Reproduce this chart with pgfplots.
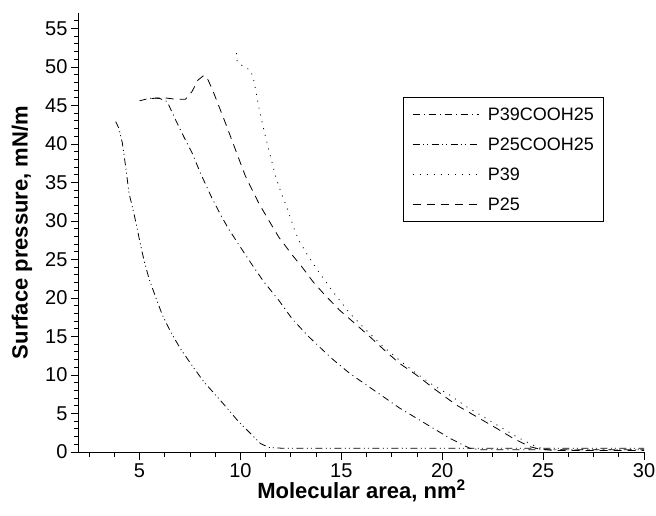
\documentclass[border=0pt]{standalone}
\usepackage{fontspec}
\setmainfont{Liberation Sans}
\usepackage{pgfplots}
\pgfplotsset{compat=1.18}
\begin{document}
\begin{tikzpicture}
\begin{axis}[
  scale only axis,
  width=565pt, height=439pt,
  xmin=2, xmax=30, ymin=0, ymax=57,
  axis x line*=bottom, axis y line*=left,
  axis line style={line width=1pt},
  tick align=outside,
  xtick={5,10,15,20,25,30},
  ytick={0,5,...,55},
  minor xtick={2.5,3.75,6.25,7.5,8.75,11.25,12.5,13.75,16.25,17.5,18.75,21.25,22.5,23.75,26.25,27.5,28.75},
  minor ytick={1,2,3,4,6,7,8,9,11,12,13,14,16,17,18,19,21,22,23,24,26,27,28,29,31,32,33,34,36,37,38,39,41,42,43,44,46,47,48,49,51,52,53,54,56},
  major tick length=8pt, minor tick length=5pt,
  every tick/.style={black, line width=0.8pt},
  /pgf/number format/assume math mode=true,
  tick label style={font=\fontsize{20}{23}\selectfont},
  xlabel={\textbf{Molecular area, nm\textsuperscript{2}}},
  ylabel={\textbf{Surface pressure, mN/m}},
  label style={font=\fontsize{22}{25}\selectfont},
  xlabel style={at={(axis description cs:0.5,0)}, anchor=center, yshift=-39pt},
  ylabel style={at={(axis description cs:0,0.5)}, anchor=center, rotate=0, yshift=57pt},
  legend style={at={(rel axis cs:0.573,0.809)}, anchor=north west, draw=black, line width=0.8pt,
    font=\fontsize{18}{21}\selectfont, inner xsep=9pt, inner ysep=9pt, row sep=14pt, column sep=9pt,
    nodes={inner sep=0pt, text height=14pt, text depth=2pt},
    cells={anchor=west}},
  legend image code/.code={\draw[#1, line width=0.8pt] (0pt,0pt) -- (66pt,0pt);},
  every axis plot/.append style={black, line width=0.8pt},
]
% P39COOH25
\addplot[dash pattern=on 7pt off 4pt on 1pt off 4pt] coordinates {
(5.0,45.6)(5.3,45.8)(5.7,46.0)(6.0,45.9)(6.37,45.5)(6.79,43.1)(7.2,40.9)(7.61,38.8)(8.02,36.2)(8.6,32.9)(9.1,30.4)(9.43,28.9)(10.0,26.6)(10.58,24.3)(11.16,22.1)(11.9,19.7)(12.56,17.3)(13.3,15.2)(13.77,14.0)(14.59,12.0)(15.42,10.2)(16.24,8.7)(17.07,7.2)(17.89,5.7)(18.72,4.4)(19.54,3.1)(20.37,1.8)(21.03,0.9)(21.36,0.5)(21.85,0.3)(30,0.3)};
\addlegendentry{P39COOH25}
% P25COOH25
\addplot[dash pattern=on 7pt off 3.5pt on 1pt off 3pt on 1pt off 3.5pt] coordinates {
(3.82,42.9)(3.98,42.0)(4.15,40.1)(4.31,37.1)(4.48,33.6)(4.72,31.0)(4.9,28.8)(5.0,27.5)(5.22,24.9)(5.47,22.5)(5.8,20.1)(6.13,17.8)(6.54,15.6)(7.03,13.4)(7.53,11.5)(8.19,9.1)(8.77,7.4)(9.34,5.7)(9.92,3.9)(10.5,2.4)(10.99,1.1)(11.4,0.6)(12,0.5)(30,0.5)};
\addlegendentry{P25COOH25}
% P39
\addplot[dash pattern=on 1pt off 6pt] coordinates {
(9.8,51.8)(9.84,50.7)(10.17,50.0)(10.5,49.6)(10.66,48.3)(10.91,44.8)(11.16,41.8)(11.49,38.4)(11.74,35.8)(12.0,33.8)(12.28,31.9)(12.69,28.8)(12.89,27.5)(13.39,25.3)(13.93,23.2)(14.59,20.8)(15.42,18.0)(16.24,15.8)(17.07,13.7)(17.89,11.9)(18.72,10.2)(19.54,8.7)(20.37,7.4)(21.19,5.9)(22.02,4.6)(22.84,3.3)(23.67,2.0)(24.49,0.9)(24.9,0.5)(25.5,0.3)(30,0.3)};
\addlegendentry{P39}
% P25
\addplot[dash pattern=on 8pt off 6pt] coordinates {
(5.6,45.9)(6.2,46.0)(6.8,45.8)(7.28,45.8)(7.6,46.8)(7.9,48.3)(8.19,48.9)(8.4,48.3)(8.68,46.6)(9.26,42.7)(9.76,39.2)(10.25,35.8)(10.91,32.3)(11.49,29.7)(11.9,27.9)(12.56,25.6)(13.06,24.0)(13.6,22.1)(14.18,20.4)(14.92,18.4)(15.58,16.9)(16.4,15.0)(17.23,13.0)(17.89,11.5)(18.72,10.0)(19.71,8.0)(20.7,6.1)(21.69,4.6)(22.68,3.1)(23.5,1.8)(24.33,0.7)(24.8,0.4)(25.5,0.2)(30,0.2)};
\addlegendentry{P25}
\end{axis}
\pgfresetboundingbox
\path (current axis.south west) ++(-79pt,-63pt) rectangle ++(656pt,515pt);
\end{tikzpicture}
\end{document}
